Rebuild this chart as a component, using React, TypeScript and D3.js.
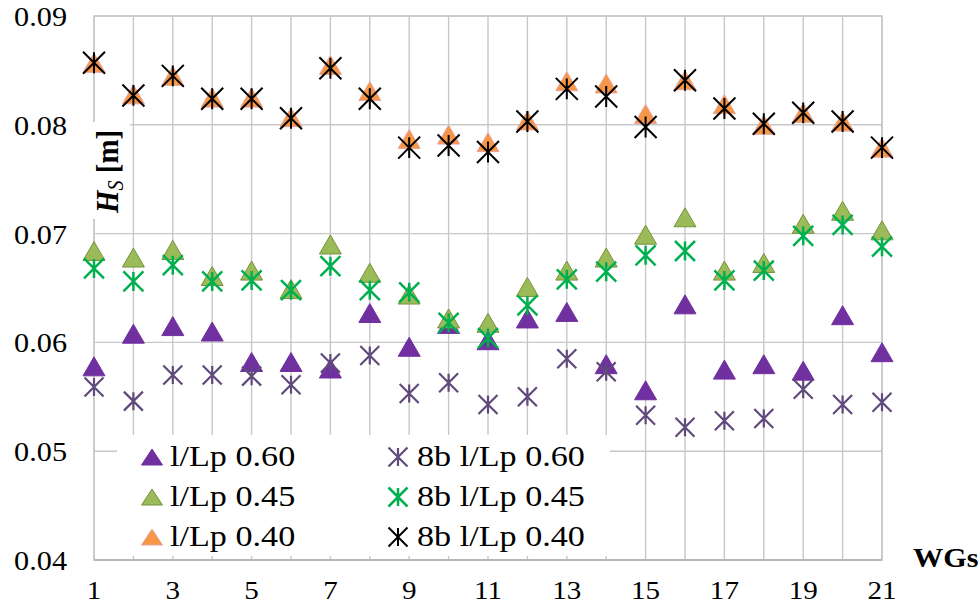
import React from "react";
import * as d3 from "d3";

const wgs = [1, 2, 3, 4, 5, 6, 7, 8, 9, 10, 11, 12, 13, 14, 15, 16, 17, 18, 19, 20, 21];
const xTicks = [1, 3, 5, 7, 9, 11, 13, 15, 17, 19, 21];
const yTicks = [0.04, 0.05, 0.06, 0.07, 0.08, 0.09];

const s060 = [0.0578, 0.0608, 0.0615, 0.0610, 0.0582, 0.0582, 0.0576, 0.0627, 0.0596, 0.0617, 0.0602, 0.0622, 0.0628, 0.0580, 0.0556, 0.0635, 0.0575, 0.0580, 0.0574, 0.0625, 0.0591];
const s045 = [0.0684, 0.0678, 0.0685, 0.0661, 0.0666, 0.0649, 0.0690, 0.0664, 0.0644, 0.0622, 0.0618, 0.0651, 0.0666, 0.0678, 0.0699, 0.0715, 0.0666, 0.0673, 0.0709, 0.0721, 0.0703];
const s040 = [0.0857, 0.0828, 0.0845, 0.0825, 0.0825, 0.0807, 0.0855, 0.0831, 0.0787, 0.0791, 0.0784, 0.0804, 0.0840, 0.0838, 0.0810, 0.0841, 0.0819, 0.0800, 0.0811, 0.0803, 0.0779];
const b060 = [0.0559, 0.0546, 0.0570, 0.0570, 0.0569, 0.0561, 0.0581, 0.0588, 0.0553, 0.0563, 0.0543, 0.0550, 0.0585, 0.0573, 0.0533, 0.0522, 0.0528, 0.0530, 0.0557, 0.0543, 0.0545];
const b045 = [0.0668, 0.0656, 0.0671, 0.0656, 0.0657, 0.0648, 0.0670, 0.0648, 0.0646, 0.0618, 0.0604, 0.0634, 0.0658, 0.0665, 0.0680, 0.0684, 0.0657, 0.0666, 0.0698, 0.0708, 0.0688];
const b040 = [0.0857, 0.0827, 0.0845, 0.0824, 0.0824, 0.0806, 0.0852, 0.0824, 0.0779, 0.0781, 0.0775, 0.0803, 0.0833, 0.0826, 0.0798, 0.0841, 0.0815, 0.0801, 0.0811, 0.0803, 0.0779];

const seriesNames = ["l/Lp 0.60", "l/Lp 0.45", "l/Lp 0.40", "8b l/Lp 0.60", "8b l/Lp 0.45", "8b l/Lp 0.40"];

type Series = { name: string; values: number[]; kind: "tri" | "star"; fill: string; stroke: string; size: number; sw: number };

const series: Series[] = [
  { name: seriesNames[0], values: s060, kind: "tri", fill: "#7030A0", stroke: "#7030A0", size: 11, sw: 1 },
  { name: seriesNames[1], values: s045, kind: "tri", fill: "#9BBB59", stroke: "#76923C", size: 11, sw: 1 },
  { name: seriesNames[2], values: s040, kind: "tri", fill: "#F79646", stroke: "#E6A5A0", size: 11, sw: 1 },
  { name: seriesNames[3], values: b060, kind: "star", fill: "none", stroke: "#604A7B", size: 9.5, sw: 2.2 },
  { name: seriesNames[4], values: b045, kind: "star", fill: "none", stroke: "#00B050", size: 10, sw: 2.5 },
  { name: seriesNames[5], values: b040, kind: "star", fill: "none", stroke: "#000000", size: 11, sw: 2 },
];

const W = 978;
const H = 604;
const L = 94, R = 882, T = 16, B = 560;
const SX = 1.12;
const FONT = "Liberation Serif";

function Marker({ s, x, y, legend }: { s: Series; x: number; y: number; legend?: boolean }) {
  if (s.kind === "tri") {
    const hw = legend ? 10.5 : s.size;
    const hh = legend ? 8 : 9.5;
    const p = `M${x},${y - hh}L${x + hw},${y + hh}L${x - hw},${y + hh}Z`;
    return <path d={p} fill={s.fill} stroke={s.stroke} strokeWidth={s.sw} />;
  }
  const r = legend ? 9.5 : s.size;
  const rv = legend ? 9 : s.size * 0.95;
  const p = `M${x - r},${y - r}L${x + r},${y + r}M${x - r},${y + r}L${x + r},${y - r}M${x},${y - rv}L${x},${y + rv}`;
  return <path d={p} fill="none" stroke={s.stroke} strokeWidth={s.sw} />;
}

export default function App() {
  const x = d3.scaleLinear().domain([1, 21]).range([L, R]);
  const y = d3.scaleLinear().domain([0.04, 0.09]).range([B, T]);
  const grid = "#C8C8C8";

  const legendCols = [152, 398];
  const legendTextX = [170, 417];
  const legendRows = [457, 497, 537];

  return (
    <svg width={W} height={H} style={{ position: "absolute", left: 0, top: 0, background: "#fff", fontFamily: FONT }}>
      <rect x={0} y={0} width={W} height={H} fill="#fff" />
      {wgs.map((v) => (
        <line key={"gx" + v} x1={x(v)} x2={x(v)} y1={T} y2={B} stroke={grid} strokeWidth={1.4} />
      ))}
      {yTicks.map((v) => (
        <line key={"gy" + v} x1={L} x2={R} y1={y(v)} y2={y(v)} stroke={grid} strokeWidth={1.4} />
      ))}
      <rect x={L} y={T} width={R - L} height={B - T} fill="none" stroke={grid} strokeWidth={1.4} />
      <line x1={L} x2={R} y1={B} y2={B} stroke="#B0B0B0" strokeWidth={1.4} />

      {yTicks.map((v) => (
        <text key={"yt" + v} transform={`translate(67,${y(v) + 10}) scale(${SX},1)`} textAnchor="end" fontSize={27} fill="#000" style={{ fontFamily: FONT }}>
          {d3.format(".2f")(v)}
        </text>
      ))}
      {xTicks.map((v) => (
        <text key={"xt" + v} transform={`translate(${x(v)},599) scale(${SX},1)`} textAnchor="middle" fontSize={26} fill="#000" style={{ fontFamily: FONT }}>
          {v}
        </text>
      ))}

      <rect x={90} y={122} width={40} height={97} fill="#fff" />
      <text transform={`translate(117.5,213) scale(${SX},1) rotate(-90)`} fontSize={29} fill="#000" style={{ fontFamily: FONT }}>
        <tspan fontWeight="bold" fontStyle="italic">H</tspan>
        <tspan fontStyle="italic" fontSize={20} dy={5}>S</tspan>
        <tspan fontWeight="bold" dy={-5}> [m]</tspan>
      </text>

      <text transform={`translate(913,567) scale(${SX},1)`} fontSize={27} fontWeight="bold" fill="#000" style={{ fontFamily: FONT }}>
        WGs
      </text>

      {series.map((s) => (
        <g key={s.name}>
          {s.values.map((v, i) => (
            <Marker key={i} s={s} x={x(wgs[i])} y={y(v)} />
          ))}
        </g>
      ))}

      <rect x={117} y={435} width={493} height={121} fill="#fff" />
      {series.map((s, i) => {
        const col = i < 3 ? 0 : 1;
        const row = i % 3;
        return (
          <g key={"lg" + s.name}>
            <Marker s={s} x={legendCols[col]} y={legendRows[row]} legend />
            <text transform={`translate(${legendTextX[col]},${legendRows[row] + 9}) scale(${SX},1)`} fontSize={30.5} fill="#000" style={{ fontFamily: FONT }}>
              {s.name}
            </text>
          </g>
        );
      })}
    </svg>
  );
}
